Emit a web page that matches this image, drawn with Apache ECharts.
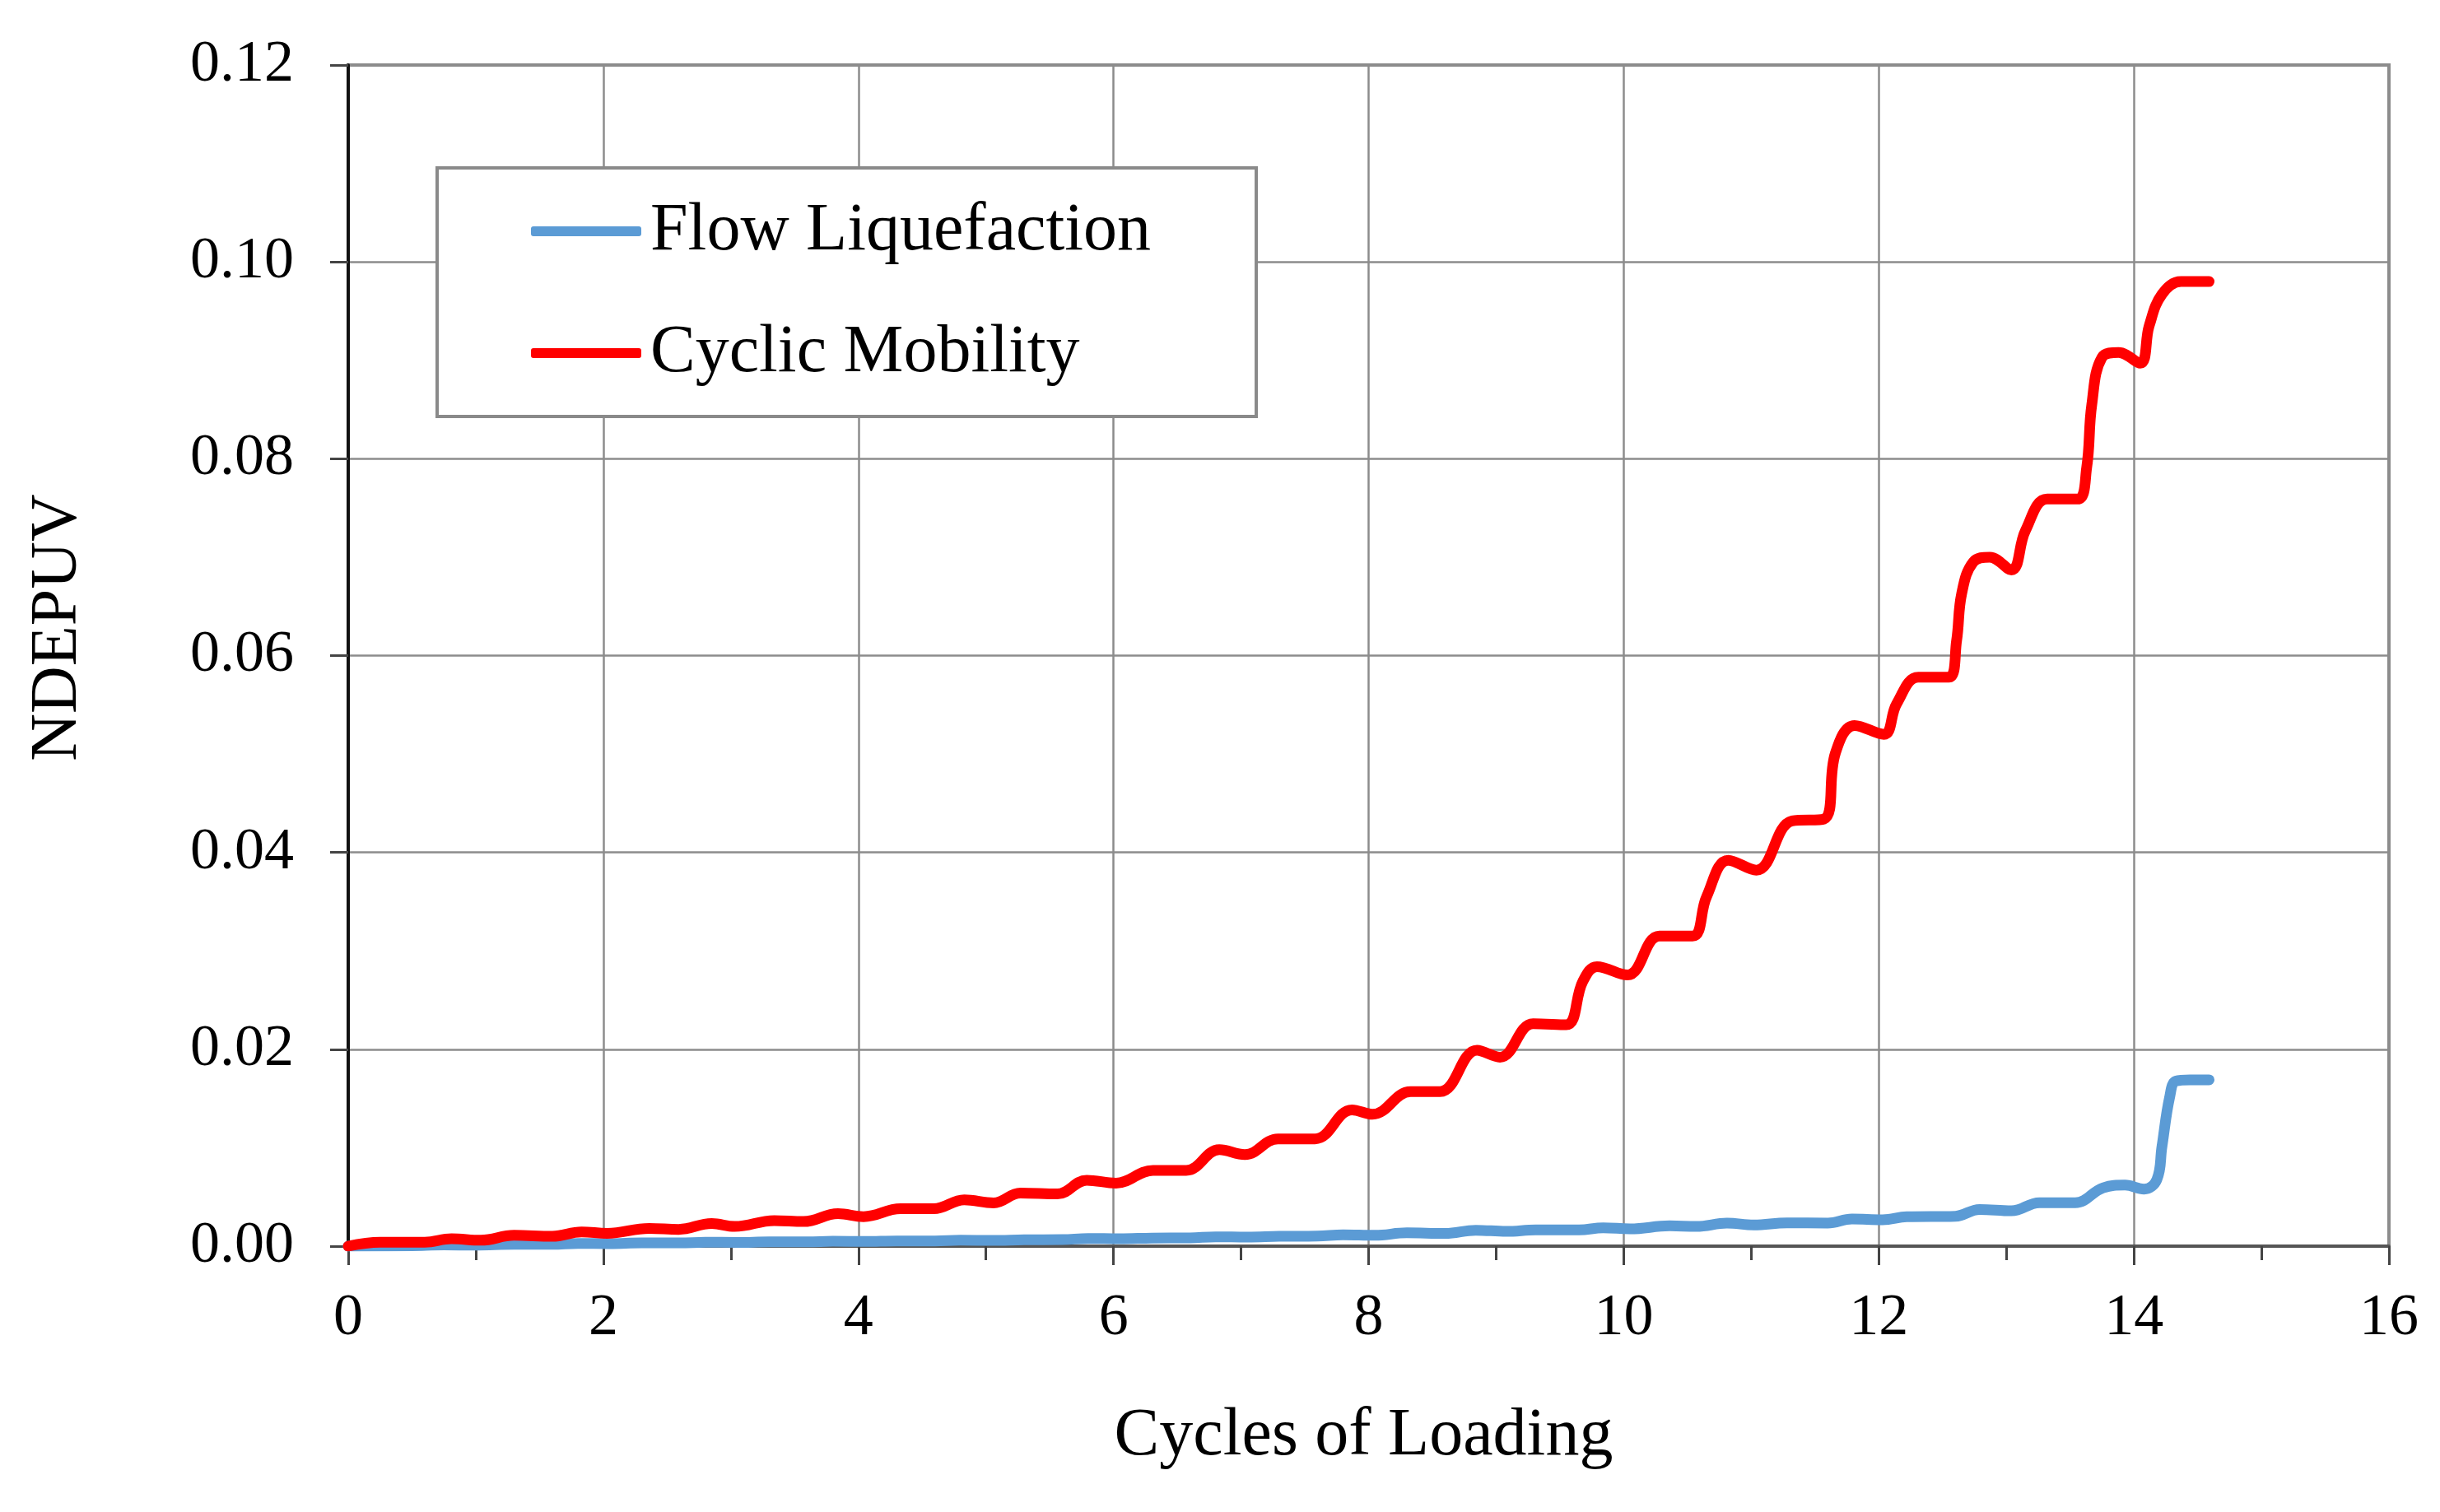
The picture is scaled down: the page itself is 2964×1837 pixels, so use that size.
<!DOCTYPE html>
<html>
<head>
<meta charset="utf-8">
<script src="https://cdn.jsdelivr.net/npm/echarts@6/dist/echarts.min.js"></script>
<style>
html,body{margin:0;padding:0;background:#fff;}
#chart{width:2964px;height:1837px;}
</style>
</head>
<body>
<div id="chart"></div>
<script>
const seriesNames = ['Flow Liquefaction', 'Cyclic Mobility'];
const xTicks = [0, 2, 4, 6, 8, 10, 12, 14, 16];
const yTicks = [0.00, 0.02, 0.04, 0.06, 0.08, 0.10, 0.12];

const flowLiquefaction = [
  [0,0],[0.5,0.00005],[0.75,0.00012],[1.0,0.0001],[1.3,0.00018],[1.6,0.00018],[1.8,0.00028],[2.05,0.00026],
  [2.3,0.00033],[2.6,0.00033],[2.8,0.0004],[3.05,0.00038],[3.3,0.00043],[3.6,0.00043],[3.8,0.0005],[4.05,0.00048],
  [4.3,0.00053],[4.6,0.00053],[4.8,0.0006],[5.05,0.00058],[5.3,0.00064],[5.6,0.00066],[5.8,0.00078],[6.05,0.00075],
  [6.3,0.00082],[6.6,0.00084],[6.8,0.00095],[7.05,0.00092],[7.3,0.001],[7.6,0.00103],[7.8,0.00115],[8.05,0.0011],
  [8.3,0.00135],[8.6,0.0013],[8.84,0.00162],[9.08,0.0015],[9.31,0.00165],[9.65,0.00165],[9.84,0.00187],[10.05,0.00175],
  [10.36,0.00206],[10.57,0.002],[10.81,0.00234],[11.02,0.00215],[11.28,0.00237],[11.6,0.00235],[11.79,0.00276],[12.03,0.00268],
  [12.22,0.00298],[12.6,0.00304],[12.79,0.00373],[13.04,0.00359],[13.26,0.00442],[13.54,0.00442],[13.76,0.00593],[13.93,0.0062],
  [14.08,0.0058],[14.18,0.00675],[14.22,0.0101],[14.28,0.0151],[14.33,0.01678],[14.44,0.0169],[14.59,0.0169]
];

const cyclicMobility = [
  [0,0],[0.25,0.0004],[0.6,0.0004],[0.81,0.00075],[1.04,0.0006],[1.3,0.0011],[1.6,0.001],[1.83,0.00145],
  [2.03,0.0013],[2.36,0.0018],[2.59,0.0017],[2.85,0.0023],[3.03,0.002],[3.34,0.0026],[3.57,0.0025],[3.84,0.0033],
  [4.04,0.003],[4.33,0.0038],[4.59,0.0038],[4.83,0.0047],[5.06,0.0044],[5.27,0.0054],[5.56,0.0053],[5.79,0.0067],
  [6.02,0.0064],[6.31,0.0077],[6.57,0.0077],[6.83,0.0098],[7.03,0.0093],[7.29,0.0109],[7.58,0.0109],[7.87,0.01385],
  [8.03,0.0134],[8.33,0.0157],[8.56,0.0157],[8.85,0.0199],[9.03,0.0192],[9.29,0.0226],[9.55,0.0225],[9.68,0.0269],
  [9.79,0.0284],[10.03,0.02755],[10.28,0.0315],[10.54,0.0315],[10.65,0.0355],[10.82,0.0392],[11.04,0.0382],[11.32,0.0432],
  [11.57,0.0434],[11.66,0.0501],[11.81,0.0529],[12.04,0.052],[12.14,0.0551],[12.31,0.0578],[12.55,0.0578],[12.61,0.0615],
  [12.65,0.0663],[12.74,0.0695],[12.87,0.07],[13.04,0.0687],[13.15,0.0727],[13.32,0.0759],[13.56,0.0759],[13.63,0.0791],
  [13.67,0.0855],[13.75,0.0903],[13.88,0.0908],[14.05,0.0897],[14.12,0.0935],[14.22,0.0967],[14.37,0.098],[14.59,0.098]
];

const colors = ['#5b9bd5', '#ff0000'];
const FONT = '"Liberation Serif", "Times New Roman", serif';

const chart = echarts.init(document.getElementById('chart'), null, {renderer: 'canvas'});
chart.setOption({
  animation: false,
  backgroundColor: '#ffffff',
  grid: {
    left: 423, right: 62, top: 79, bottom: 323,
    show: true, borderColor: '#8a8a8a', borderWidth: 4, backgroundColor: 'transparent'
  },
  legend: {
    orient: 'vertical',
    left: 531, top: 204,
    data: seriesNames,
    icon: 'roundRect',
    itemWidth: 134, itemHeight: 12,
    itemGap: 66,
    padding: [36, 128, 36, 114],
    borderColor: '#8a8a8a', borderWidth: 4,
    backgroundColor: '#ffffff',
    textStyle: {fontFamily: FONT, fontSize: 82, color: '#000', padding: [0, 0, 0, 6]}
  },
  xAxis: {
    type: 'value',
    min: xTicks[0], max: xTicks[xTicks.length - 1], interval: 2,
    name: 'Cycles of Loading',
    nameLocation: 'middle', nameGap: 190,
    nameTextStyle: {fontFamily: FONT, fontSize: 82, color: '#000', padding: [0, 12, 0, 0]},
    axisLine: {show: true, onZero: false, lineStyle: {color: '#555555', width: 4}},
    axisTick: {show: true, inside: false, length: 23, lineStyle: {color: '#444', width: 3}},
    minorTick: {show: true, splitNumber: 2, length: 17, lineStyle: {color: '#444', width: 3}},
    axisLabel: {fontFamily: FONT, fontSize: 72, color: '#000', margin: 52},
    splitLine: {show: true, lineStyle: {color: '#8c8c8c', width: 2.5}},
    minorSplitLine: {show: false}
  },
  yAxis: {
    type: 'value',
    min: yTicks[0], max: yTicks[yTicks.length - 1], interval: 0.02,
    name: 'NDEPUV',
    nameLocation: 'middle', nameGap: 312, nameRotate: 90,
    nameTextStyle: {fontFamily: FONT, fontSize: 80, color: '#000', padding: [0, 0, 0, 68]},
    axisLine: {show: true, onZero: false, lineStyle: {color: '#111111', width: 4}},
    axisTick: {show: true, inside: false, length: 22, lineStyle: {color: '#444', width: 3}},
    axisLabel: {fontFamily: FONT, fontSize: 72, color: '#000', margin: 66,
      formatter: v => v.toFixed(2)},
    splitLine: {show: true, lineStyle: {color: '#8c8c8c', width: 2.5}}
  },
  series: [
    {
      name: seriesNames[0], type: 'line', data: flowLiquefaction,
      showSymbol: false, symbol: 'none', smooth: 0.4,
      color: colors[0],
      lineStyle: {color: colors[0], width: 13, cap: 'round', join: 'round'}
    },
    {
      name: seriesNames[1], type: 'line', data: cyclicMobility,
      showSymbol: false, symbol: 'none', smooth: 0.4,
      color: colors[1],
      lineStyle: {color: colors[1], width: 13, cap: 'round', join: 'round'}
    }
  ]
});
</script>
</body>
</html>
